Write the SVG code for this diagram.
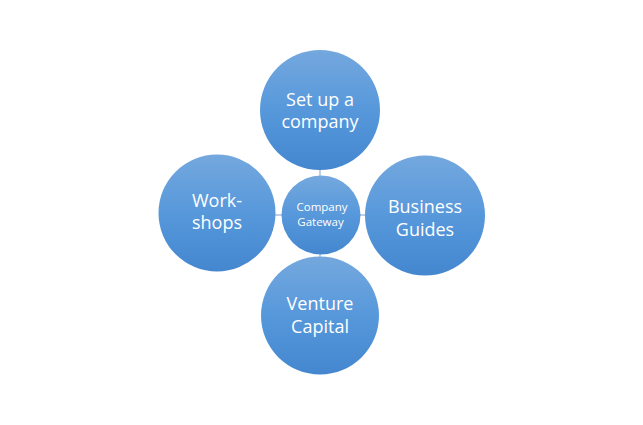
<svg xmlns="http://www.w3.org/2000/svg" width="643" height="425" viewBox="0 0 643 425">
<defs>
<linearGradient id="g" x1="0" y1="0" x2="0" y2="1">
<stop offset="0" stop-color="#74a8de"/>
<stop offset="0.5" stop-color="#5798db"/>
<stop offset="1" stop-color="#4487cf"/>
</linearGradient>
<style>
.n{fill:url(#g);}
.t{fill:#ffffff;font-family:"Open Sans","Noto Sans",sans-serif;font-size:18px;text-anchor:middle;}
.s{fill:#ffffff;font-family:"Open Sans","Noto Sans",sans-serif;font-size:11.5px;text-anchor:middle;}
.c{stroke:#8fb0d6;stroke-width:1.2;}
</style>
</defs>
<rect width="643" height="425" fill="#ffffff"/>
<g id="connectors" class="c">
<line x1="320" y1="169" x2="320" y2="176"/>
<line x1="320" y1="254" x2="320" y2="258"/>
<line x1="275" y1="215" x2="282" y2="215"/>
<line x1="360" y1="215" x2="366" y2="215"/>
</g>
<g id="center">
<circle class="n" cx="321" cy="215" r="39.5"/>
<text class="s" x="322" y="210.5">Company</text>
<text class="s" x="320.5" y="225.5">Gateway</text>
</g>
<g id="top">
<circle class="n" cx="320" cy="110" r="60"/>
<text class="t" x="320" y="106">Set up a</text>
<text class="t" x="320" y="128">company</text>
</g>
<g id="left">
<circle class="n" cx="217" cy="213" r="58.5"/>
<text class="t" x="217" y="207">Work-</text>
<text class="t" x="217" y="229">shops</text>
</g>
<g id="right">
<circle class="n" cx="425" cy="215.5" r="60"/>
<text class="t" x="425" y="212.5">Business</text>
<text class="t" x="425" y="236">Guides</text>
</g>
<g id="bottom">
<circle class="n" cx="320" cy="315.5" r="59"/>
<text class="t" x="320" y="310">Venture</text>
<text class="t" x="320" y="333">Capital</text>
</g>
</svg>
